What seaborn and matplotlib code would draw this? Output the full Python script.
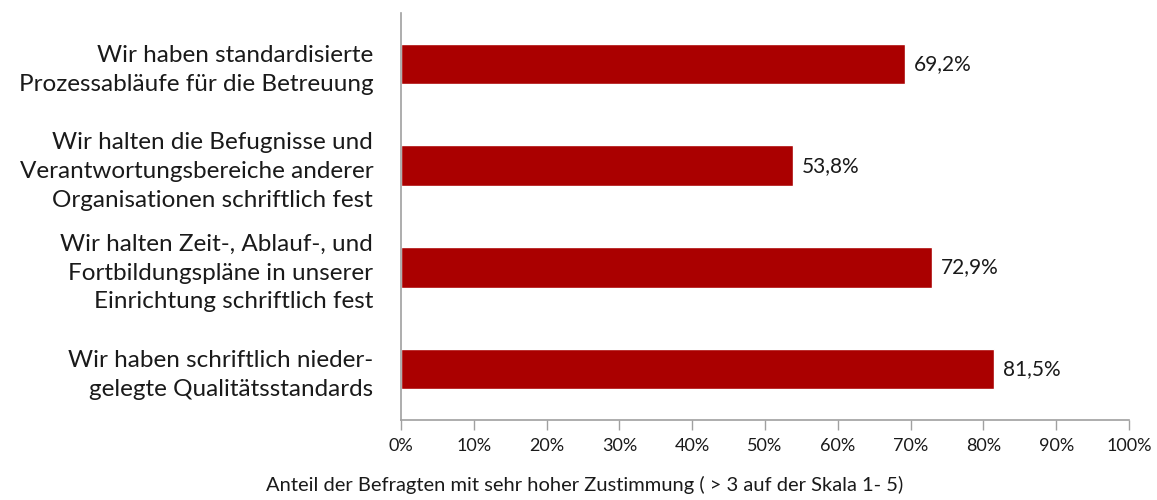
import matplotlib
matplotlib.use("Agg")
import matplotlib.pyplot as plt
import seaborn as sns
import pandas as pd
from matplotlib.ticker import FuncFormatter, MultipleLocator

categories = [
    "Wir haben standardisierte\nProzessabläufe für die Betreuung",
    "Wir halten die Befugnisse und\nVerantwortungsbereiche anderer\nOrganisationen schriftlich fest",
    "Wir halten Zeit-, Ablauf-, und\nFortbildungspläne in unserer\nEinrichtung schriftlich fest",
    "Wir haben schriftlich nieder-\ngelegte Qualitätsstandards",
]
values = [69.2, 53.8, 72.9, 81.5]
xlabel = "Anteil der Befragten mit sehr hoher Zustimmung ( > 3 auf der Skala 1- 5)"

sns.set_theme(style="white")
plt.rcParams['font.family'] = ['Lato', 'DejaVu Sans']

df = pd.DataFrame({"cat": categories, "val": values})

fig = plt.figure(figsize=(11.57, 5.0), dpi=100)
ax = fig.add_axes([0.3466, 0.16, 0.6292, 0.814])
sns.barplot(data=df, y="cat", x="val", orient="h", color="#AA0000",
            width=0.4, saturation=1, ax=ax)

for i, v in enumerate(values):
    ax.text(v + 1.2, i, f"{v:.1f}%".replace(".", ","), va="center", ha="left",
            fontsize=15, color="#1a1a1a")

ax.set_xlim(0, 100)
ax.set_ylim(3.5, -0.5)
ax.xaxis.set_major_locator(MultipleLocator(10))
ax.xaxis.set_major_formatter(FuncFormatter(lambda x, p: f"{int(round(x))}%"))
ax.set_ylabel("")
ax.set_xlabel("")
fig.text(0.505, 0.012, xlabel, ha="center", va="bottom", fontsize=14.5, color="#1a1a1a")
ax.tick_params(axis="x", which="major", length=7, width=1, color="#a0a0a0",
               labelsize=13, labelcolor="#1a1a1a", bottom=True, direction="out", pad=6)
ax.tick_params(axis="y", length=0, labelsize=17.5, labelcolor="#1a1a1a", pad=20)
for lbl in ax.get_yticklabels():
    lbl.set_multialignment("right")
    lbl.set_linespacing(1.45)

for s in ["top", "right"]:
    ax.spines[s].set_visible(False)
for s in ["left", "bottom"]:
    ax.spines[s].set_color("#a0a0a0")
    ax.spines[s].set_linewidth(1.2)

fig.savefig("out.png", dpi=100)
